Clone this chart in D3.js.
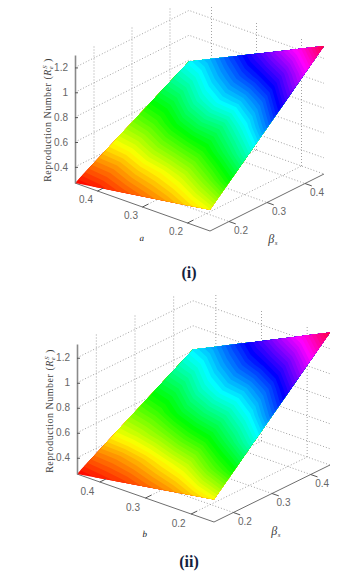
<!DOCTYPE html>
<html>
<head>
<meta charset="utf-8">
<style>
  html, body { margin: 0; padding: 0; background: #fff; }
  svg { display: block; }
  .tick-label { font-family: "Liberation Sans", sans-serif; font-size: 10px; fill: #666; }
  .axis-label { font-family: "Liberation Serif", serif; font-size: 10px; fill: #3c3c3c; letter-spacing: 0.5px; }
  .caption { font-family: "Liberation Serif", serif; font-size: 16px; font-weight: bold; fill: #14213d; }
</style>
<script src="https://cdn.jsdelivr.net/npm/d3@7"></script>
</head>
<body>
<div id="chart"></div>
<script>
// values
var rowValues = [0.45, 0.40, 0.35, 0.30, 0.25, 0.20, 0.15]; // a (top) and b (bottom) axis
var betaValues = [0.15, 0.20, 0.25, 0.30, 0.35, 0.40, 0.45];
var floorTicks = [0.2, 0.3, 0.4];
var zTicks = [0.4, 0.6, 0.8, 1, 1.2];

// colour value of the surface, one row per value in rowValues, one column per betaValues
var surfaceI = [
  [0.27, 0.36, 0.45, 0.54, 0.63, 0.72, 0.81],
  [0.29, 0.38, 0.48, 0.58, 0.67, 0.77, 0.87],
  [0.32, 0.42, 0.53, 0.64, 0.75, 0.85, 0.95],
  [0.35, 0.45, 0.57, 0.69, 0.81, 0.92, 1.03],
  [0.38, 0.49, 0.61, 0.72, 0.85, 0.98, 1.11],
  [0.42, 0.55, 0.68, 0.80, 0.92, 1.05, 1.19],
  [0.46, 0.62, 0.76, 0.90, 1.03, 1.15, 1.30]
];
var surfaceII = [
  [0.27, 0.36, 0.46, 0.55, 0.64, 0.73, 0.82],
  [0.29, 0.38, 0.49, 0.59, 0.68, 0.78, 0.88],
  [0.31, 0.41, 0.53, 0.65, 0.76, 0.86, 0.96],
  [0.34, 0.45, 0.58, 0.70, 0.82, 0.93, 1.04],
  [0.37, 0.49, 0.62, 0.74, 0.86, 0.99, 1.12],
  [0.41, 0.56, 0.69, 0.81, 0.93, 1.06, 1.20],
  [0.45, 0.62, 0.77, 0.91, 1.03, 1.16, 1.30]
];
// height of the four corners: [a max, beta min / beta max], [a min, beta min / beta max]
var cornersI = [[0.27, 0.79], [0.44, 1.30]];
var cornersII = [[0.27, 0.81], [0.45, 1.33]];

var width = 359, height = 577, bandCount = 64;

var svg = d3.select("#chart").append("svg")
    .attr("width", width)
    .attr("height", height);

// clip one grid cell against value >= t, keeps the cell's corners as [row, col, value]
function clipCell(cell, t) {
  var out = [];
  cell.forEach(function(p, k) {
    var q = cell[(k + 1) % cell.length];
    if (p[2] >= t) out.push(p);
    if ((p[2] >= t) !== (q[2] >= t)) {
      var f = (t - p[2]) / (q[2] - p[2]);
      out.push([p[0] + f * (q[0] - p[0]), p[1] + f * (q[1] - p[1]), t]);
    }
  });
  return out;
}

function drawPanel(opt) {
  var g = svg.append("g")
      .attr("transform", "translate(" + opt.x + "," + opt.y + ")");

  // oblique axes: a separate scale for each screen direction
  var rowX = d3.scaleLinear().domain([0.45, 0.15]).range([0, opt.front[0]]);
  var rowY = d3.scaleLinear().domain([0.45, 0.15]).range([0, opt.front[1]]);
  var betaX = d3.scaleLinear().domain([0.15, 0.45]).range([0, opt.side[0]]);
  var betaY = d3.scaleLinear().domain([0.15, 0.45]).range([0, opt.side[1]]);
  var zY = d3.scaleLinear().domain([opt.zMin, opt.zTop]).range([0, -opt.zPixels]);

  // height along the two beta edges
  var lowEdge = d3.scaleLinear().domain([0.45, 0.15]).range([opt.corners[0][0], opt.corners[1][0]]);
  var highEdge = d3.scaleLinear().domain([0.45, 0.15]).range([opt.corners[0][1], opt.corners[1][1]]);
  var betaPart = d3.scaleLinear().domain([0.15, 0.45]).range([0, 1]);

  function project(a, b, z) {
    return [rowX(a) + betaX(b), rowY(a) + betaY(b) + zY(z)];
  }
  function onSurface(a, b) {
    return project(a, b, d3.interpolateNumber(lowEdge(a), highEdge(a))(betaPart(b)));
  }

  var line = d3.line();

  function dotted(points) {
    g.append("path")
        .attr("d", line(points))
        .attr("fill", "none")
        .attr("stroke", "#8c8c8c")
        .attr("stroke-width", 0.8)
        .attr("stroke-dasharray", "1,2");
  }

  // walls
  zTicks.forEach(function(z) {
    dotted([project(0.45, 0.15, z), project(0.45, 0.45, z), project(0.15, 0.45, z)]);
  });
  floorTicks.forEach(function(v) {
    dotted([project(0.45, v, opt.zMin), project(0.45, v, opt.zTop)]);
    dotted([project(v, 0.45, opt.zMin), project(v, 0.45, opt.zTop)]);
    // floor
    dotted([project(0.45, v, opt.zMin), project(0.15, v, opt.zMin)]);
    dotted([project(v, 0.15, opt.zMin), project(v, 0.45, opt.zMin)]);
  });
  dotted([project(0.45, 0.45, opt.zMin), project(0.15, 0.45, opt.zMin)]);
  dotted([project(0.45, 0.45, opt.zMin), project(0.45, 0.15, opt.zMin)]);

  // solid axes along the floor
  [[project(0.45, 0.15, opt.zMin), project(0.15, 0.15, opt.zMin)],
   [project(0.15, 0.15, opt.zMin), project(0.15, 0.45, opt.zMin)]].forEach(function(pts) {
    g.append("path")
        .attr("d", line(pts))
        .attr("stroke", "#6e6e6e")
        .attr("stroke-width", 1);
  });

  // surface: filled bands, each one painted over the last (like contourf)
  var colorMax = d3.max(opt.surface, function(r) { return d3.max(r); });
  var hue = d3.scaleLinear().domain([opt.zMin, colorMax]).range([0, 345]);
  var levels = d3.range(bandCount).map(function(i) {
    return opt.zMin + i * (colorMax - opt.zMin) / bandCount;
  });

  levels.forEach(function(t) {
    var d = "";
    for (var i = 0; i < rowValues.length - 1; i++) {
      for (var j = 0; j < betaValues.length - 1; j++) {
        var cell = [
          [rowValues[i], betaValues[j], opt.surface[i][j]],
          [rowValues[i], betaValues[j + 1], opt.surface[i][j + 1]],
          [rowValues[i + 1], betaValues[j + 1], opt.surface[i + 1][j + 1]],
          [rowValues[i + 1], betaValues[j], opt.surface[i + 1][j]]
        ];
        var poly = clipCell(cell, t);
        if (poly.length > 2) {
          d += line(poly.map(function(p) { return onSurface(p[0], p[1]); })) + "Z";
        }
      }
    }
    g.append("path")
        .attr("d", d)
        .attr("fill", d3.hsl(hue(t + 0.5 * (colorMax - opt.zMin) / bandCount), 1, 0.5));
  });

  // z axis
  g.append("g")
      .attr("class", "z axis")
      .call(d3.axisLeft(zY).tickValues(zTicks).tickFormat(d3.format("~g")).tickSizeOuter(0).tickSizeInner(-3).tickPadding(7))
      .call(function(a) {
        a.select(".domain").attr("stroke", "#8a8a8a").attr("stroke-width", 1.6);
        a.selectAll(".tick line").attr("stroke", "#555");
        a.selectAll(".tick text")
            .attr("class", "tick-label")
            .attr("fill", null)
            .attr("font-size", null)
            .attr("font-family", null);
      });

  // floor ticks and their labels
  floorTicks.forEach(function(v) {
    var p = project(v, 0.15, opt.zMin);
    g.append("path")
        .attr("d", line([p, [p[0] + betaX(0.165), p[1] + betaY(0.165)]]))
        .attr("stroke", "#555");
    g.append("text")
        .attr("class", "tick-label")
        .attr("x", p[0] + opt.rowLabel[0])
        .attr("y", p[1] + opt.rowLabel[1])
        .attr("text-anchor", "middle")
        .text(v);
    var q = project(0.15, v, opt.zMin);
    g.append("path")
        .attr("d", line([q, [q[0] + rowX(0.435) - rowX(0.45), q[1] + rowY(0.435) - rowY(0.45)]]))
        .attr("stroke", "#555");
    g.append("text")
        .attr("class", "tick-label")
        .attr("x", q[0] + opt.betaLabel[0])
        .attr("y", q[1] + opt.betaLabel[1])
        .attr("text-anchor", "middle")
        .text(v);
  });

  // z label
  var zl = g.append("text")
      .attr("class", "axis-label")
      .attr("transform", "translate(" + opt.zLabel[0] + "," + opt.zLabel[1] + ") rotate(-90)")
      .attr("text-anchor", "middle");
  zl.append("tspan").text("Reproduction Number  (");
  zl.append("tspan").attr("font-style", "italic").text("R");
  zl.append("tspan").attr("font-size", "6.5px").attr("dy", 2).attr("font-style", "italic").text("e");
  zl.append("tspan").attr("font-size", "6.5px").attr("dy", -6).attr("dx", -3).attr("font-style", "italic").text("S");
  zl.append("tspan").attr("dy", 4).text(" )");

  // floor labels
  g.append("text")
      .attr("class", "axis-label")
      .attr("x", opt.rowName[0])
      .attr("y", opt.rowName[1])
      .attr("text-anchor", "middle")
      .attr("font-style", "italic")
      .style("font-size", "9px")
      .style("fill", "#111")
      .style("text-rendering", "geometricPrecision")
      .text(opt.rowText);

  var bl = g.append("text")
      .attr("class", "axis-label")
      .attr("x", opt.betaName[0])
      .attr("y", opt.betaName[1])
      .attr("text-anchor", "middle")
      .attr("font-style", "italic")
      .style("font-size", "12px");
  bl.append("tspan").text("β");
  bl.append("tspan").attr("dy", 2).style("font-size", "7px").text("s");

  g.append("text")
      .attr("class", "caption")
      .attr("x", opt.caption[0])
      .attr("y", opt.caption[1])
      .attr("text-anchor", "middle")
      .text(opt.captionText);
}

drawPanel({
  x: 75, y: 183, front: [135, 48], side: [114, -57],
  zMin: 0.27, zTop: 1.3, zPixels: 128,
  surface: surfaceI, corners: cornersI,
  rowLabel: [-11.5, 12], betaLabel: [12, 12.5],
  zLabel: [-24, -63],
  rowText: "a", rowName: [67, 58],
  betaName: [198, 60],
  caption: [114, 95], captionText: "(i)"
});

drawPanel({
  x: 77, y: 474, front: [137, 48], side: [116, -57],
  zMin: 0.27, zTop: 1.31, zPixels: 130,
  surface: surfaceII, corners: cornersII,
  rowLabel: [-12.5, 13], betaLabel: [11.5, 12.5],
  zLabel: [-24, -63],
  rowText: "b", rowName: [68, 63],
  betaName: [199, 61],
  caption: [112, 93], captionText: "(ii)"
});
</script>
</body>
</html>
